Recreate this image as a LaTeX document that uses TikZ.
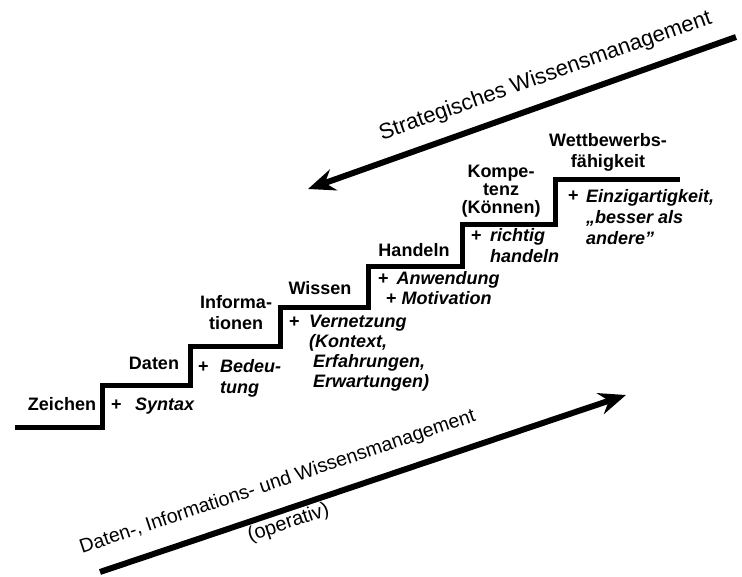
\documentclass[tikz,border=0pt]{standalone}
\usepackage{fontspec}
\setmainfont{Liberation Sans}
\usetikzlibrary{arrows.meta}

\begin{document}
\begin{tikzpicture}[
    x=1pt, y=-1pt,
    >={Stealth[length=27pt, width=22pt, inset=9pt]},
    stair/.style={line width=5pt},
    bigarrow/.style={line width=6pt},
    stage/.style={font=\fontsize{18}{21}\selectfont\bfseries, align=center, inner sep=0pt, anchor=base},
    gain/.style={font=\fontsize{18}{21}\selectfont\bfseries\itshape, align=left, inner sep=0pt, anchor=base west},
    plus/.style={font=\fontsize{18}{21}\selectfont\bfseries, inner sep=0pt, anchor=base west},
    arrowtext/.style={font=\fontsize{22}{26}\selectfont, sloped, inner sep=0pt}
]
    \useasboundingbox (0,0) rectangle (742,577);

    % Staircase
    \draw[stair] (15,427) -| (102,386) -| (190,347) -| (280,308) -| (368,267)
        -| (462,225) -| (555,180) -- (680,180);

    % Stages
    \node[stage] (zeichen) at (62,410) {Zeichen};
    \node[stage] (daten) at (154,370) {Daten};
    \node[stage] (info) at (236,330) {Informa-\\tionen};
    \node[stage] (wissen) at (320,295) {Wissen};
    \node[stage] (handeln) at (414,257) {Handeln};
    \node[stage, font=\fontsize{18}{18}\selectfont\bfseries] (kompetenz) at (501,214) {Kompe-\\tenz\\(Können)};
    \node[stage] (wettbewerb) at (608,168) {Wettbewerbs-\\fähigkeit};

    % Additions per step
    \node[plus] (plusSyntax) at (111,410) {+};
    \node[gain] (syntax) at (135,410) {Syntax};
    \node[plus] (plusBedeutung) at (198,373) {+};
    \node[gain] (bedeutung) at (220,394) {Bedeu-\\tung};
    \node[plus] (plusVernetzung) at (289,328) {+};
    \node[gain, font=\fontsize{18}{20}\selectfont\bfseries\itshape] (vernetzung) at (309,388)
        {Vernetzung\\(Kontext,\\\hspace{4pt}Erfahrungen,\\\hspace{4pt}Erwartungen)};
    \node[gain, font=\fontsize{18}{20}\selectfont\bfseries\itshape] (anwendung) at (378,305)
        {\upshape+\hspace{8pt}\itshape Anwendung\\\hspace{8pt}\upshape+ \itshape Motivation};
    \node[plus] (plusRichtig) at (471,242) {+};
    \node[gain] (richtig) at (490,263) {richtig\\handeln};
    \node[plus] (plusEinzig) at (568,202) {+};
    \node[gain] (einzig) at (586,245) {Einzigartigkeit,\\„besser als\\andere”};

    % Management arrows
    \coordinate (stratTip) at (308,189);
    \coordinate (stratTail) at (736,37);
    \draw[bigarrow, <-] (stratTip) -- (stratTail)
        node[arrowtext, pos=0.576, anchor=base, yshift=21pt] (strategisch) {Strategisches Wissensmanagement};

    \coordinate (opTail) at (100,572);
    \coordinate (opTip) at (626,395);
    \draw[bigarrow, ->] (opTail) -- (opTip)
        node[arrowtext, font=\fontsize{19.6}{23}\selectfont, pos=0.355, anchor=base, yshift=23pt] (operativ)
            {Daten-, Informations- und Wissensmanagement}
        node[arrowtext, font=\fontsize{20}{24}\selectfont, pos=0.35, yshift=-14pt] (operativLabel) {(operativ)};

\end{tikzpicture}
\end{document}
